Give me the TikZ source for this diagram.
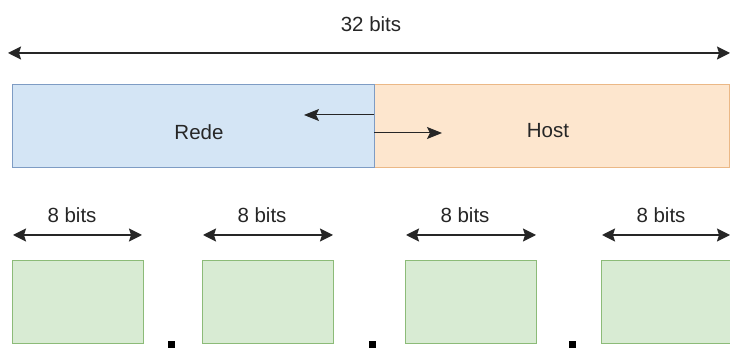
\documentclass[tikz,border=0pt]{standalone}
\usepackage{fontspec}
\setmainfont{Liberation Sans}
\usetikzlibrary{arrows.meta}
\definecolor{redefill}{HTML}{D4E5F5}
\definecolor{redeline}{HTML}{7E9CC4}
\definecolor{hostfill}{HTML}{FDE6CE}
\definecolor{hostline}{HTML}{EBB886}
\definecolor{bytefill}{HTML}{D8EBD3}
\definecolor{byteline}{HTML}{8CBB78}
\tikzset{
  x=1pt,y=1pt,
  lbl/.style={font=\fontsize{20.5}{24}\selectfont, text=black!85, inner sep=0pt},
  dim/.style={draw=black!85, line width=1.5pt, {Stealth[length=13pt,width=13pt,inset=2pt]}-{Stealth[length=13pt,width=13pt,inset=2pt]}},
  sub/.style={draw=black!85, line width=1pt, -{Stealth[length=15pt,width=12pt,inset=3pt]}},
  redebox/.style={draw=redeline, fill=redefill, line width=1pt, minimum width=362pt, minimum height=83pt, inner sep=0pt, anchor=north west},
  hostbox/.style={draw=hostline, fill=hostfill, line width=1pt, minimum width=355pt, minimum height=83pt, inner sep=0pt, anchor=north west},
  bytebox/.style={draw=byteline, fill=bytefill, line width=1pt, minimum width=131pt, minimum height=83pt, inner sep=0pt, anchor=north west},
  dotbox/.style={fill=black, minimum size=7pt, inner sep=0pt},
}
\begin{document}
\begin{tikzpicture}
\useasboundingbox (0,0) rectangle (730,350);
% 32 bits
\node[lbl] (t32) at (371,326) {32 bits};
\coordinate (a32l) at (8,297);
\coordinate (a32r) at (730,297);
\draw[dim] (a32l) -- (a32r);
% Rede / Host
\node[hostbox] (host) at (374,266) {};
\node[redebox] (rede) at (12,266) {};
\node[lbl] at (199,218) {Rede};
\node[lbl] at (548,219) {Host};
\coordinate (s1) at (374,235);
\coordinate (e1) at (304,235);
\coordinate (s2) at (374,217);
\coordinate (e2) at (442,217);
\draw[sub] (s1) -- (e1);
\draw[sub] (s2) -- (e2);
% bytes
\foreach \i/\x/\w in {1/12/130,2/202/131,3/405/131,4/601/129}{
  \node[bytebox] (b\i) at (\x,90) {};
  \coordinate (l\i) at ({\x+1},115);
  \coordinate (r\i) at ({\x+\w},115);
  \draw[dim] (l\i) -- (r\i);
  \node[lbl] (bl\i) at ({\x+60},135) {8 bits};
}
\node[dotbox] (d1) at (171,5) {};
\node[dotbox] (d2) at (372,5) {};
\node[dotbox] (d3) at (572,5) {};
\end{tikzpicture}
\end{document}
